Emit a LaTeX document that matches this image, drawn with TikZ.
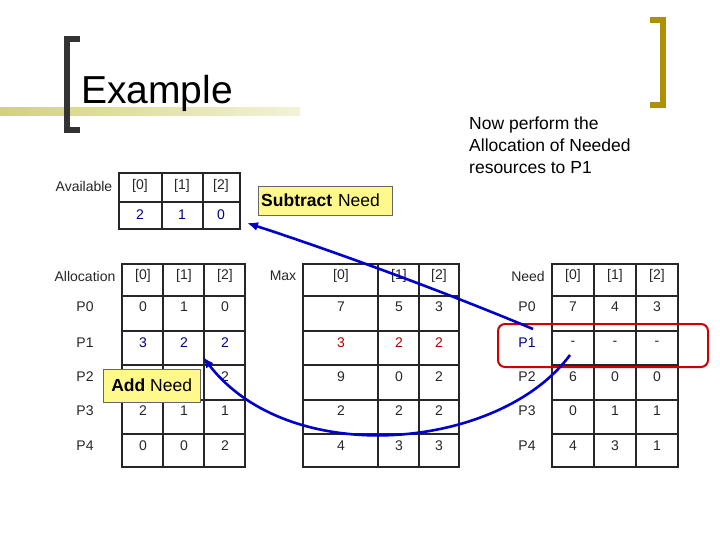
\documentclass[tikz,border=0pt]{standalone}
\usepackage{fontspec}
\setmainfont{Liberation Sans}
\usetikzlibrary{arrows.meta}
\begin{document}
\begin{tikzpicture}[x=1pt,y=-1pt,
  txt/.style={font=\fontsize{14}{16}\selectfont,inner sep=0pt,anchor=center,text=black!85},
  grid/.style={draw=black!85,line width=1.6pt},
  note/.style={draw=black!60,fill=yellow!45,font=\fontsize{17.5}{19}\selectfont,inner sep=3pt},
  arr/.style={draw=blue!80!black,line width=2.6pt,-{Latex[length=11pt,width=9pt]}}]
\useasboundingbox (0,0) rectangle (720,540);
\fill[left color=olive!35!white,right color=olive!10!white] (0,108) rectangle (300,116);
\draw[black!80,line width=6pt] (80,39) -- (67,39) -- (67,130) -- (80,130);
\draw[olive!70!orange,line width=6pt] (650,20) -- (663,20) -- (663,105) -- (650,105);
\node[anchor=west,font=\fontsize{39}{42}\selectfont,inner sep=0pt] (title) at (81,93) {Example};
\node[anchor=north west,align=left,font=\fontsize{17.5}{22}\selectfont,inner sep=0pt] (now) at (469,117) {Now perform the\\Allocation of Needed\\resources to P1};
\draw[grid] (119,173) rectangle (240,229) (119,202) -- (240,202) (162,173) -- (162,229) (203,173) -- (203,229);
\node[txt] (avl) at (84,186) {Available};
\foreach \x/\t/\n in {140/{[0]}/a0,182/{[1]}/a1,221/{[2]}/a2} \node[txt] (h\n) at (\x,186) {\t};
\foreach \x/\t/\n in {140/2/a0,182/1/a1,221/0/a2} \node[txt,text=blue!50!black] (v\n) at (\x,215) {\t};
\draw[grid] (122,264) rectangle (245,467);
\foreach \y in {296,331,365,400,434} \draw[grid] (122,\y) -- (245,\y);
\foreach \x in {163,204} \draw[grid] (\x,264) -- (\x,467);
\draw[grid] (303,264) rectangle (459,467);
\foreach \y in {296,331,365,400,434} \draw[grid] (303,\y) -- (459,\y);
\foreach \x in {378,419} \draw[grid] (\x,264) -- (\x,467);
\draw[grid] (552,264) rectangle (678,467);
\foreach \y in {296,331,365,400,434} \draw[grid] (552,\y) -- (678,\y);
\foreach \x in {594,636} \draw[grid] (\x,264) -- (\x,467);
\node[txt] (alloc) at (85,276) {Allocation};
\node[txt] (max) at (283,276) {Max};
\node[txt] (need) at (528,276) {Need};
\foreach \x/\t/\n in {143/{[0]}/0,184/{[1]}/1,225/{[2]}/2} \node[txt] (al\n) at (\x,276) {\t};
\foreach \x/\t/\n in {341/{[0]}/0,399/{[1]}/1,439/{[2]}/2} \node[txt] (mx\n) at (\x,276) {\t};
\foreach \x/\t/\n in {573/{[0]}/0,615/{[1]}/1,657/{[2]}/2} \node[txt] (nd\n) at (\x,276) {\t};
\foreach \y/\p in {307/P0,343/P1,377/P2,411/P3,446/P4} \node[txt] (l\p) at (85,\y) {\p};
\foreach \y/\p in {307/P0,377/P2,411/P3,446/P4} \node[txt] (n\p) at (527,\y) {\p};
\node[txt,text=blue!50!black] (nP1) at (527,343) {P1};
\foreach \y/\a/\b/\c/\r in {307/0/1/0/0,411/2/1/1/3,446/0/0/2/4}{
  \node[txt] (A\r0) at (143,\y) {\a}; \node[txt] (A\r1) at (184,\y) {\b}; \node[txt] (A\r2) at (225,\y) {\c};}
\node[txt] (A22) at (225,377) {2};
\foreach \v/\x/\n in {3/143/0,2/184/1,2/225/2} \node[txt,text=blue!50!black] (A1\n) at (\x,343) {\v};
\foreach \y/\a/\b/\c/\r in {307/7/5/3/0,377/9/0/2/2,411/2/2/2/3,446/4/3/3/4}{
  \node[txt] (M\r0) at (341,\y) {\a}; \node[txt] (M\r1) at (399,\y) {\b}; \node[txt] (M\r2) at (439,\y) {\c};}
\foreach \v/\x/\n in {3/341/0,2/399/1,2/439/2} \node[txt,text=red!70!black] (M1\n) at (\x,343) {\v};
\foreach \y/\a/\b/\c/\r in {307/7/4/3/0,343/-/-/-/1,377/6/0/0/2,411/0/1/1/3,446/4/3/1/4}{
  \node[txt] (N\r0) at (573,\y) {\a}; \node[txt] (N\r1) at (615,\y) {\b}; \node[txt] (N\r2) at (657,\y) {\c};}
\draw[red!80!black,line width=2pt,rounded corners=7pt] (498,324) rectangle (708,367);
\node[note,anchor=north west,text width=128pt,align=left,minimum height=29pt] (sub) at (258,186) {\textbf{Subtract} Need};
\node[note,anchor=north west,minimum height=33pt,minimum width=97pt] (add) at (103,369) {\textbf{Add} Need};
\coordinate (s1) at (533,329);
\coordinate (e1) at (247,223);
\coordinate (s2) at (570,355);
\coordinate (e2) at (203,357);
\draw[arr] (s1) .. controls (440,290) and (330,250) .. (e1);
\draw[arr] (s2) .. controls (500,450) and (290,470) .. (e2);
\end{tikzpicture}
\end{document}
